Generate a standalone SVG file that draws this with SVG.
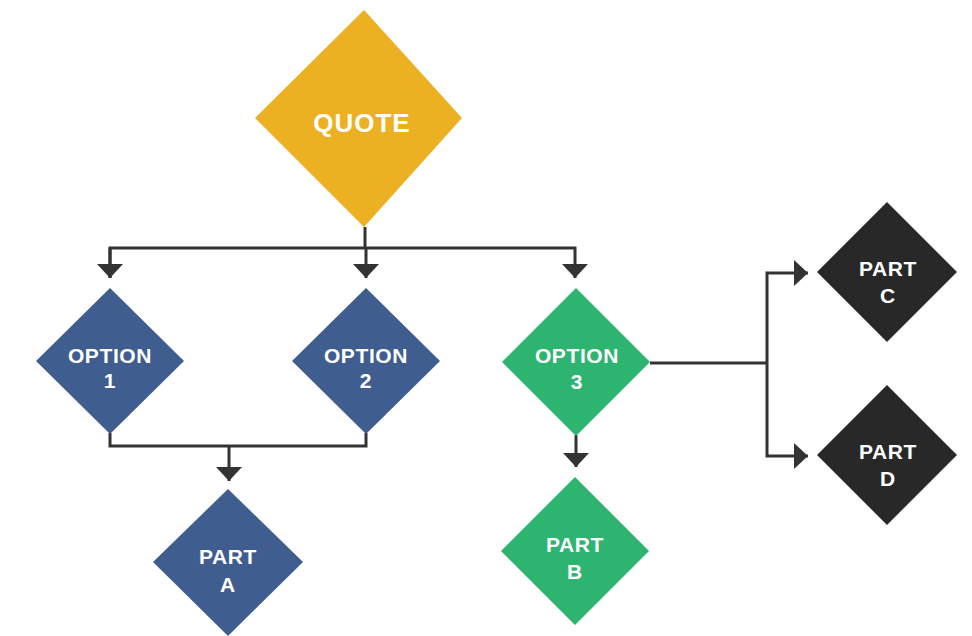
<svg xmlns="http://www.w3.org/2000/svg" width="972" height="636" viewBox="0 0 972 636">
<defs>
<style>
.ln{fill:none;stroke:#333333;stroke-width:3;stroke-linejoin:miter}
.t{font-family:"Liberation Sans",Arial,Helvetica,sans-serif;font-weight:bold;fill:#ffffff;text-anchor:middle}
.s{font-size:21px;letter-spacing:0.6px}
.q{font-size:26px;letter-spacing:1px}
.gold{fill:#ECB123}
.blue{fill:#405D90}
.green{fill:#2DB471}
.dark{fill:#282828}
</style>
<marker id="ah" viewBox="0 0 14 26" refX="14" refY="13" markerWidth="14" markerHeight="26" markerUnits="userSpaceOnUse" orient="auto">
<path d="M0,0 L14,13 L0,26 Z" fill="#333333"/>
</marker>
</defs>
<rect width="972" height="636" fill="#ffffff"/>
<g id="connectors">
<path class="ln" d="M365,227 V248"/>
<path class="ln" d="M110,278 V248 H575 V278" marker-end="url(#ah)"/>
<path class="ln" d="M110,248 V278" marker-end="url(#ah)"/>
<path class="ln" d="M366,248 V278" marker-end="url(#ah)"/>
<path class="ln" d="M110,433 V446 H366 V433"/>
<path class="ln" d="M229,446 V481" marker-end="url(#ah)"/>
<path class="ln" d="M576,435 V467" marker-end="url(#ah)"/>
<path class="ln" d="M650,363 H767"/>
<path class="ln" d="M767,363 V273 H808" marker-end="url(#ah)"/>
<path class="ln" d="M767,363 V456 H808" marker-end="url(#ah)"/>
</g>
<g id="quote">
<polygon class="gold" points="364,10 462,118 364,227 255,118"/>
<text class="t q" x="362" y="132">QUOTE</text>
</g>
<g id="option1">
<polygon class="blue" points="110,288 184,361 110,434 36,361"/>
<text class="t s" x="110" y="363">OPTION</text>
<text class="t s" x="110" y="388">1</text>
</g>
<g id="option2">
<polygon class="blue" points="366,288 440,361 366,434 292,361"/>
<text class="t s" x="366" y="363">OPTION</text>
<text class="t s" x="366" y="388">2</text>
</g>
<g id="option3">
<polygon class="green" points="576,288 650,362 576,436 502,362"/>
<text class="t s" x="577" y="363">OPTION</text>
<text class="t s" x="577" y="389">3</text>
</g>
<g id="partA">
<polygon class="blue" points="228,489 303,562 228,636 153,562"/>
<text class="t s" x="228" y="564">PART</text>
<text class="t s" x="228" y="592">A</text>
</g>
<g id="partB">
<polygon class="green" points="575,477 649,551 575,625 501,551"/>
<text class="t s" x="575" y="552">PART</text>
<text class="t s" x="575" y="579">B</text>
</g>
<g id="partC">
<polygon class="dark" points="887,202 957,272 887,342 817,272"/>
<text class="t s" x="888" y="276">PART</text>
<text class="t s" x="888" y="303">C</text>
</g>
<g id="partD">
<polygon class="dark" points="887,385 957,455 887,525 817,455"/>
<text class="t s" x="888" y="459">PART</text>
<text class="t s" x="888" y="486">D</text>
</g>
</svg>
